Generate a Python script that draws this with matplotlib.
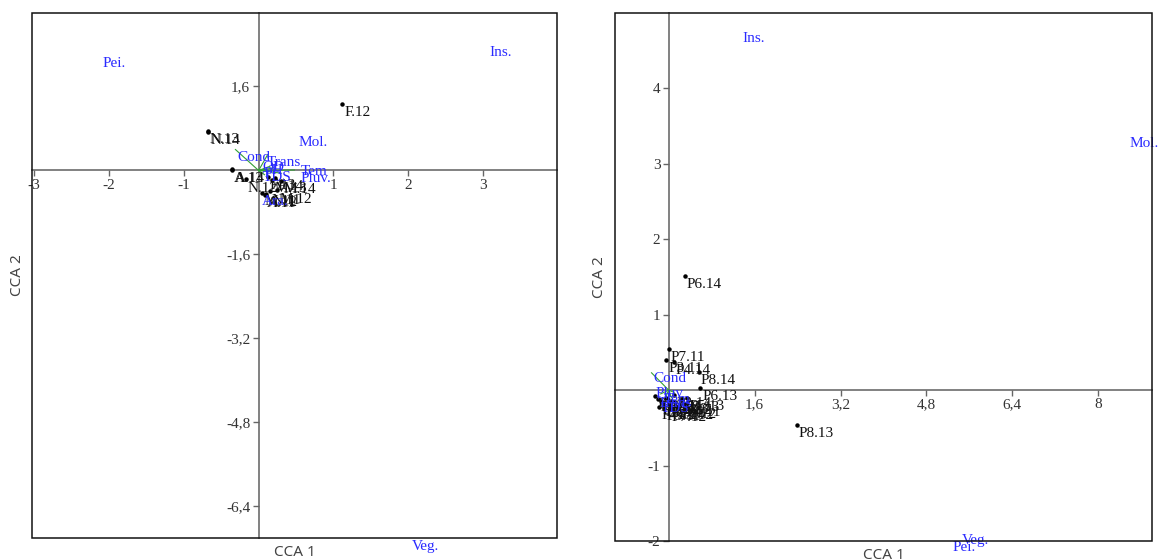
import matplotlib
matplotlib.use("Agg")
import matplotlib.pyplot as plt
from matplotlib.patches import Rectangle
from matplotlib.ticker import FuncFormatter, FixedLocator

# ---------------- Left panel data ----------------
left_sites = ["F.12", "N.13", "N.14", "A.13", "A.14", "N.12", "F.13", "F.14",
              "M.13", "M.14", "M.11", "N.11", "A.11", "A.12", "M.12"]
left_x = [1.12, -0.68, -0.67, -0.36, -0.35, -0.17, 0.12, 0.22,
          0.18, 0.30, 0.05, 0.15, 0.08, 0.10, 0.25]
left_y = [1.26, 0.75, 0.74, 0.02, 0.01, -0.17, -0.12, -0.14,
          -0.18, -0.20, -0.42, -0.40, -0.46, -0.44, -0.38]

left_sp = ["Pei.", "Ins.", "Mol.", "Veg.", "Ara."]
left_sp_x = [-2.09, 3.09, 0.53, 2.05, 0.05]
left_sp_y = [2.04, 2.25, 0.53, -7.16, -0.60]

left_env = ["Cond", "Trans", "OD", "pH", "Tem", "Pluv.", "TDS"]
left_env_x = [-0.31, 0.12, 0.15, 0.20, 0.48, 0.30, 0.08]
left_env_y = [0.40, 0.30, 0.08, 0.05, 0.01, -0.05, -0.08]
left_env_lx = [-0.29, 0.11, 0.05, 0.08, 0.56, 0.56, 0.05]
left_env_ly = [0.25, 0.15, 0.06, 0.00, -0.02, -0.16, -0.14]

left_xticks = [-3, -2, -1, 1, 2, 3]
left_yticks = [1.6, -1.6, -3.2, -4.8, -6.4]

# ---------------- Right panel data ----------------
right_sites = ["P6.14", "P7.11", "P3.11", "P4.14", "P8.14", "P6.13", "P8.13", "P8.12",
               "P1.11", "P1.12", "P1.13", "P1.14", "P2.11", "P2.12", "P2.13", "P2.14",
               "P3.12", "P3.13", "P4.11", "P4.12", "P5.11", "P5.12", "P5.13", "P7.12"]
right_x = [0.30, 0.00, -0.05, 0.09, 0.56, 0.59, 2.38, 0.20,
           -0.25, -0.20, -0.15, -0.10, -0.05, 0.00, 0.05, 0.10,
           0.15, 0.25, 0.30, -0.18, -0.08, 0.12, 0.35, 0.02]
right_y = [1.51, 0.54, 0.40, 0.37, 0.24, 0.03, -0.46, -0.21,
           -0.08, -0.12, -0.15, -0.18, -0.10, -0.20, -0.14, -0.06,
           -0.22, -0.12, -0.18, -0.22, -0.24, -0.16, -0.10, -0.25]

right_sp = ["Ins.", "Mol.", "Veg.", "Pei."]
right_sp_x = [1.38, 8.58, 5.45, 5.28]
right_sp_y = [4.66, 3.27, -1.99, -2.08]

right_env = ["Cond", "Pluv", "Tem", "Trans", "TDS"]
right_env_x = [-0.32, -0.15, 0.10, -0.05, 0.05]
right_env_y = [0.23, -0.05, -0.03, -0.08, -0.10]
right_env_lx = [-0.28, -0.25, -0.10, -0.20, -0.15]
right_env_ly = [0.15, -0.05, -0.12, -0.18, -0.24]

right_xticks = [1.6, 3.2, 4.8, 6.4, 8]
right_yticks = [4, 3, 2, 1, -1, -2]

# ---------------- Style ----------------
SERIF = ["Liberation Serif", "DejaVu Serif"]
BLUE = "#2a2aff"
FS = 11


def fmt(v, pos=None):
    return ("%g" % v).replace(".", ",")


def draw_panel(ax, xlim, ylim, xticks, yticks, sites, sx, sy,
               sp, spx, spy, env, ex, ey, elx, ely):
    ax.set_xlim(*xlim)
    ax.set_ylim(*ylim)
    for s in ["top", "right"]:
        ax.spines[s].set_visible(False)
    ax.spines["left"].set_position(("data", 0))
    ax.spines["bottom"].set_position(("data", 0))
    for s in ["left", "bottom"]:
        ax.spines[s].set_color("#777777")
        ax.spines[s].set_linewidth(1.3)
        ax.spines[s].set_zorder(1)
    ax.add_patch(Rectangle((0, 0), 1, 1, transform=ax.transAxes, fill=False,
                           edgecolor="#111111", linewidth=1.1, clip_on=False, zorder=5))
    ax.xaxis.set_major_locator(FixedLocator(xticks))
    ax.yaxis.set_major_locator(FixedLocator(yticks))
    ax.xaxis.set_major_formatter(FuncFormatter(fmt))
    ax.yaxis.set_major_formatter(FuncFormatter(fmt))
    ax.tick_params(direction="out", length=4, width=1, color="#666666",
                   labelsize=FS, labelcolor="#333333", pad=2)
    for lab in ax.get_xticklabels() + ax.get_yticklabels():
        lab.set_fontfamily(SERIF)

    # environmental vectors
    for x, y in zip(ex, ey):
        ax.plot([0, x], [0, y], color="#33a033", lw=0.8, zorder=2)
    # sites
    ax.plot(sx, sy, "o", color="black", ms=2.2, zorder=3, linestyle="none")
    for name, x, y in zip(sites, sx, sy):
        ax.annotate(name, (x, y), xytext=(1.5, -1.5), textcoords="offset points",
                    ha="left", va="top", fontsize=FS, family=SERIF,
                    color="#111111", zorder=4, annotation_clip=False)
    # species
    for name, x, y in zip(sp, spx, spy):
        ax.text(x, y, name, ha="left", va="center", fontsize=FS, family=SERIF,
                color=BLUE, zorder=4, clip_on=False)
    # env labels
    for name, x, y in zip(env, elx, ely):
        ax.text(x, y, name, ha="left", va="center", fontsize=FS, family=SERIF,
                color=BLUE, zorder=4, clip_on=False)

    ax.text(0.5, -0.028, "CCA 1", transform=ax.transAxes, ha="center", va="center",
            fontsize=11, color="#444444", family=["Noto Sans", "DejaVu Sans"])
    ax.text(-0.028, 0.5, "CCA 2", transform=ax.transAxes, ha="center", va="center",
            rotation=90, fontsize=11, color="#444444", family=["Noto Sans", "DejaVu Sans"])


fig = plt.figure(figsize=(11.59, 5.6), dpi=100)
ax1 = fig.add_axes([32 / 1159, 22 / 560, 525 / 1159, 525 / 560])
ax2 = fig.add_axes([615 / 1159, 19 / 560, 537 / 1159, 528 / 560])

draw_panel(ax1, (-3.03, 3.99), (-7.0, 3.0), left_xticks, left_yticks,
           left_sites, left_x, left_y, left_sp, left_sp_x, left_sp_y,
           left_env, left_env_x, left_env_y, left_env_lx, left_env_ly)
draw_panel(ax2, (-1.0, 9.0), (-2.0, 5.0), right_xticks, right_yticks,
           right_sites, right_x, right_y, right_sp, right_sp_x, right_sp_y,
           right_env, right_env_x, right_env_y, right_env_lx, right_env_ly)

fig.savefig("out.png", dpi=100)
